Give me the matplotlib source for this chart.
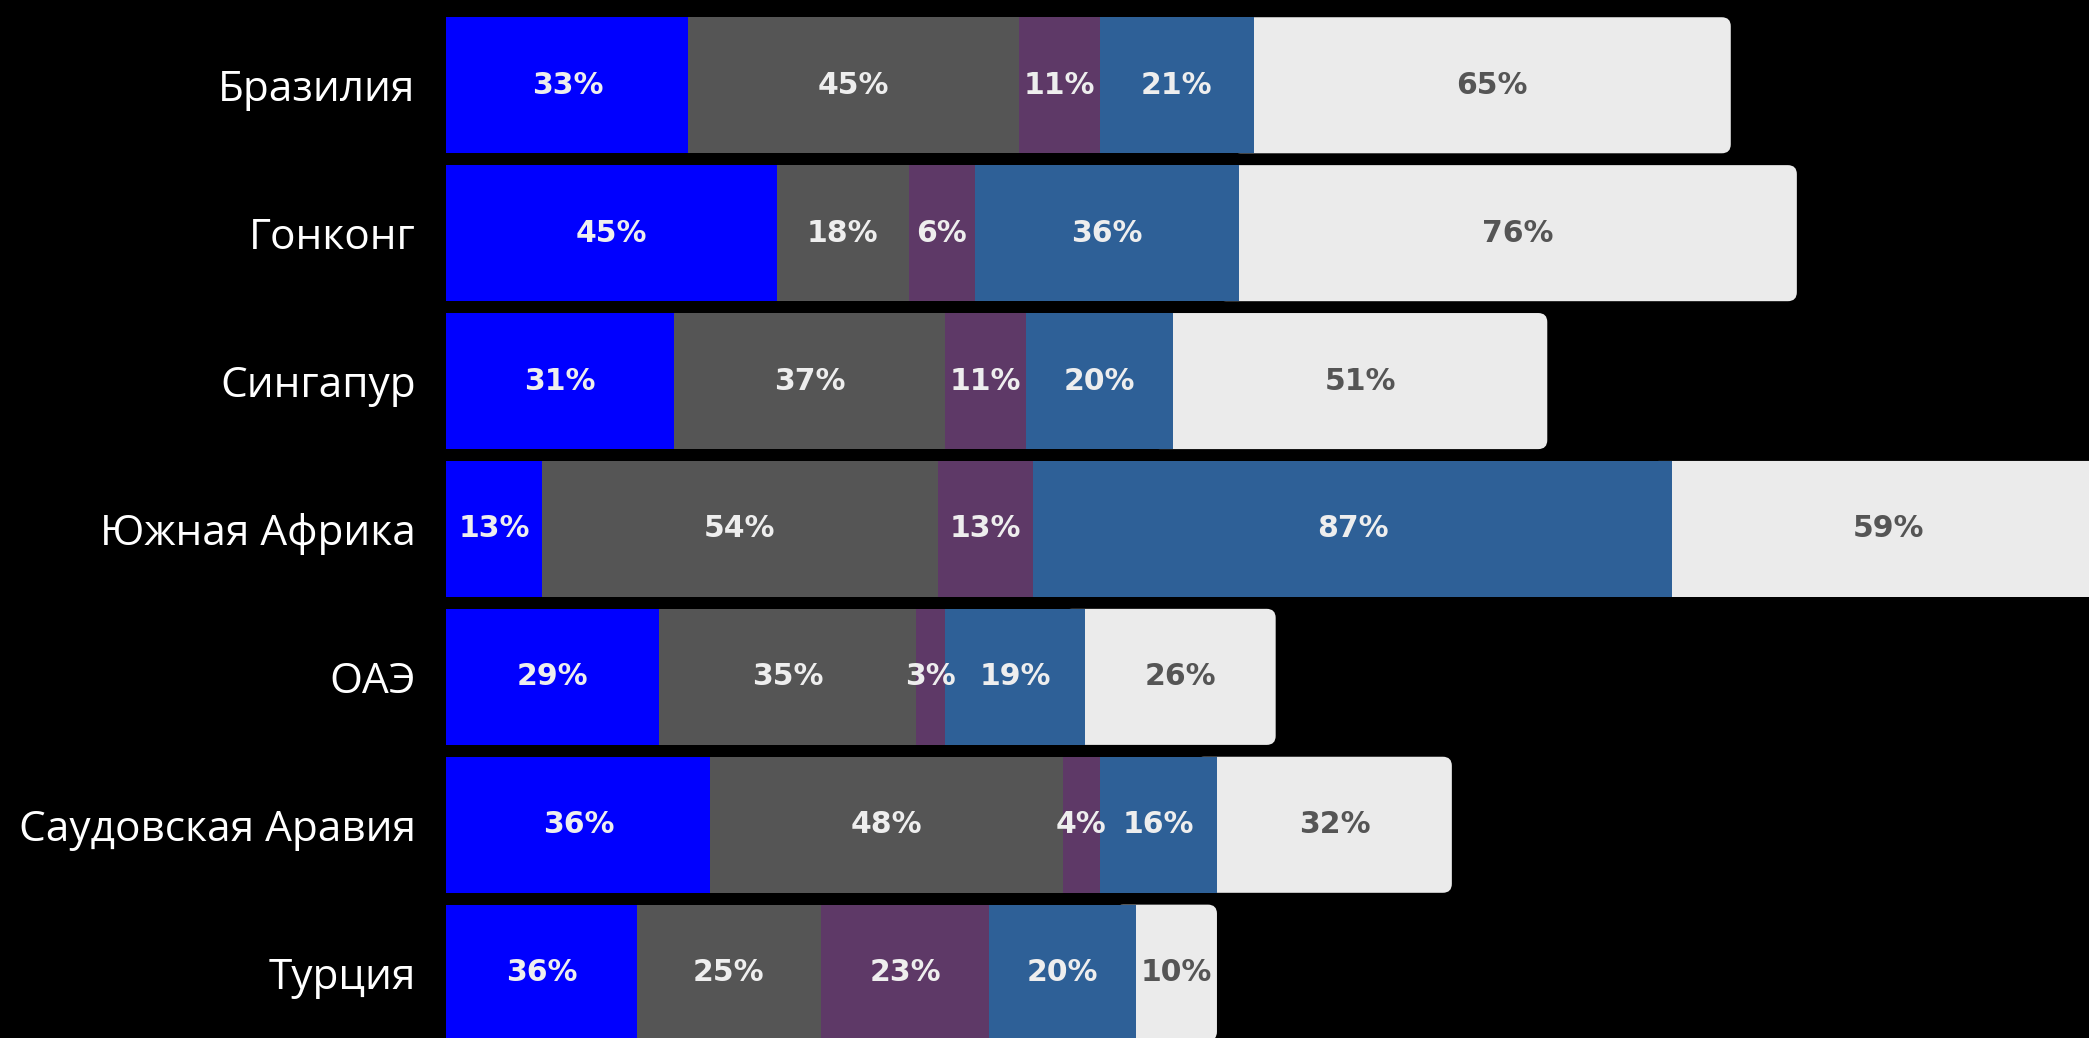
import numpy as np
import matplotlib.pyplot as plt
from matplotlib.patches import FancyBboxPatch

countries = ['Бразилия', 'Гонконг', 'Сингапур', 'Южная Африка', 'ОАЭ',
             'Саудовская Аравия', 'Турция']

# segment widths as drawn in the picture
seg1 = [33, 45, 31, 13, 29, 36, 26]
seg2 = [45, 18, 37, 54, 35, 48, 25]
seg3 = [11, 9, 11, 13, 4, 5, 23]
seg4 = [21, 36, 20, 87, 19, 16, 20]
seg5 = [65, 76, 51, 59, 26, 32, 11]

# printed labels
lab1 = ['33%', '45%', '31%', '13%', '29%', '36%', '36%']
lab2 = ['45%', '18%', '37%', '54%', '35%', '48%', '25%']
lab3 = ['11%', '6%', '11%', '13%', '3%', '4%', '23%']
lab4 = ['21%', '36%', '20%', '87%', '19%', '16%', '20%']
lab5 = ['65%', '76%', '51%', '59%', '26%', '32%', '10%']

colors = ['#0000ff', '#555555', '#5e3967', '#2e6097', '#ebebeb']
text_colors = ['#eeeeee', '#eeeeee', '#eeeeee', '#eeeeee', '#555555']

segments = [seg1, seg2, seg3, seg4, seg5]
labels = [lab1, lab2, lab3, lab4, lab5]

fig = plt.figure(figsize=(20.89, 10.38), dpi=100, facecolor='black')
ax = fig.add_axes([0.2136, -0.0083, 0.7864, 0.9974])
ax.set_facecolor('black')

y = np.arange(len(countries))
bar_h = 0.92
xmax = 223.8
ax.set_xlim(0, xmax)
ax.set_ylim(len(countries) - 0.5, -0.5)

# aspect correction so the rounded corners come out circular
fig_w, fig_h = fig.get_size_inches() * fig.dpi
ax_w = 0.7864 * fig_w
ax_h = 0.9974 * fig_h
px_x = ax_w / xmax
px_y = ax_h / len(countries)
aspect = px_x / px_y
radius = 9 / px_x

left = np.zeros(len(countries))
for k, (vals, labs) in enumerate(zip(segments, labels)):
    vals = np.array(vals, dtype=float)
    if k == len(segments) - 1:
        for i in range(len(countries)):
            start = left[i] - 3
            patch = FancyBboxPatch((start, y[i] - bar_h / 2), vals[i] + 3, bar_h,
                                   boxstyle=f'round,pad=0,rounding_size={radius}',
                                   mutation_aspect=aspect, facecolor=colors[k],
                                   edgecolor='none', zorder=1, clip_on=True)
            ax.add_patch(patch)
    else:
        ax.barh(y, vals, left=left, height=bar_h, color=colors[k],
                edgecolor='none', zorder=2)
    for i in range(len(countries)):
        cx = left[i] + vals[i] / 2
        ax.text(cx, y[i], labs[i], ha='center', va='center',
                color=text_colors[k], fontsize=21.5, fontweight='bold',
                family='DejaVu Sans', zorder=3)
    left += vals

ax.set_yticks(y)
ax.set_yticklabels(countries, fontsize=30.5, color='white', family='Open Sans')
ax.tick_params(axis='y', length=0, pad=22)
ax.set_xticks([])
for s in ax.spines.values():
    s.set_visible(False)

fig.savefig('out.png', dpi=100, facecolor='black')
